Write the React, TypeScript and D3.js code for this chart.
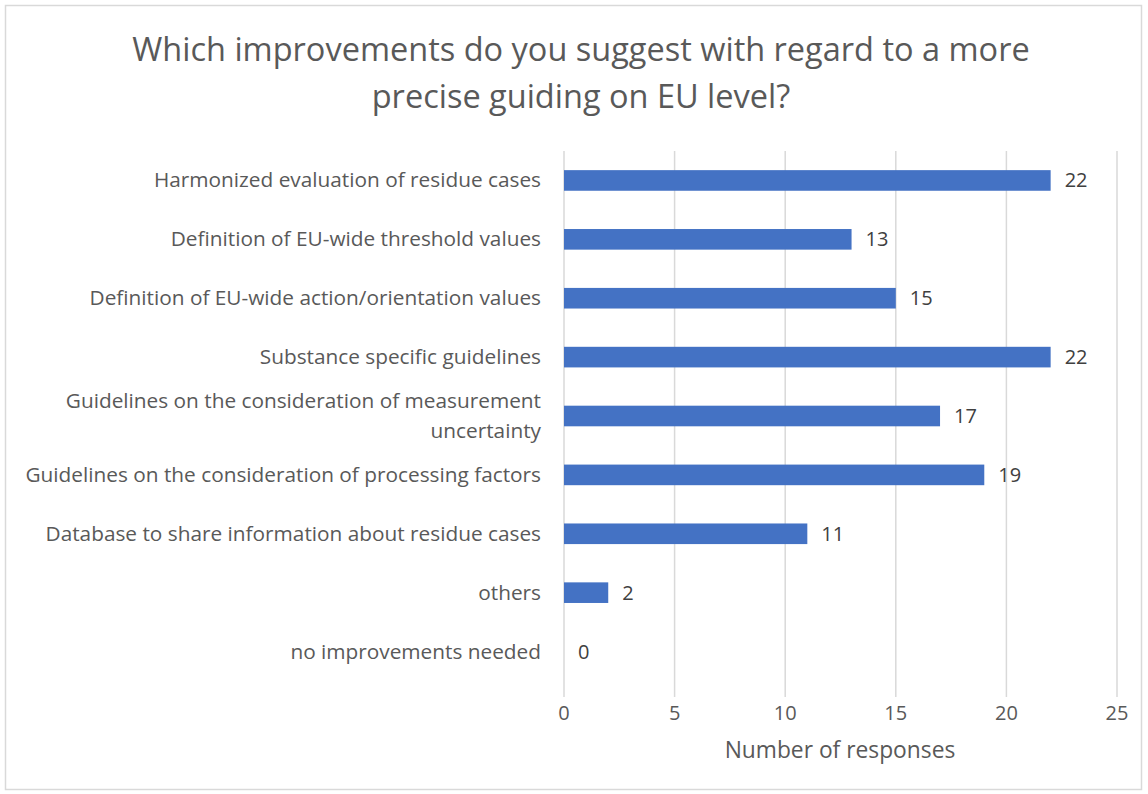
import React from "react";
import * as d3 from "d3";

const categories: string[][] = [
  ["Harmonized evaluation of residue cases"],
  ["Definition of EU-wide threshold values"],
  ["Definition of EU-wide action/orientation values"],
  ["Substance specific guidelines"],
  ["Guidelines on the consideration of measurement", "uncertainty"],
  ["Guidelines on the consideration of processing factors"],
  ["Database to share information about residue cases"],
  ["others"],
  ["no improvements needed"],
];
const values: number[] = [22, 13, 15, 22, 17, 19, 11, 2, 0];
const xTicks: number[] = [0, 5, 10, 15, 20, 25];
const titleLines: string[] = [
  "Which improvements do you suggest with regard to a more",
  "precise guiding on EU level?",
];
const xTitle = "Number of responses";

const W = 1148;
const H = 794;
const FONT = "'Open Sans', 'Noto Sans', sans-serif";

export default function App() {
  const x = d3.scaleLinear().domain([0, 25]).range([564, 1117]);
  const y = d3
    .scaleBand<number>()
    .domain(values.map((_, i) => i))
    .range([151, 681])
    .paddingInner(0.65)
    .paddingOuter(0.325);
  const bw = y.bandwidth();
  return (
    <svg
      width={W}
      height={H}
      style={{ position: "absolute", left: 0, top: 0, background: "#fff" }}
    >
      <rect x={5.5} y={5.5} width={1136} height={784} fill="#fff" stroke="#d9d9d9" strokeWidth={1.5} />
      {titleLines.map((t, i) => (
        <text
          key={i}
          x={581}
          y={61 + i * 47}
          textAnchor="middle"
          fontFamily={FONT}
          fontSize={32.5}
          fill="#595959"
        >
          {t}
        </text>
      ))}
      {xTicks.map((t) => (
        <g key={t}>
          <line x1={x(t)} x2={x(t)} y1={151} y2={697} stroke="#d9d9d9" strokeWidth={1.5} />
          <text
            x={x(t)}
            y={720}
            textAnchor="middle"
            fontFamily={FONT}
            fontSize={20}
            fill="#595959"
          >
            {t}
          </text>
        </g>
      ))}
      {values.map((v, i) => {
        const cy = (y(i) as number) + bw / 2;
        const lines = categories[i];
        return (
          <g key={i}>
            <rect x={x(0)} y={y(i)} width={x(v) - x(0)} height={bw} fill="#4472c4" />
            <text
              x={x(v) + 14}
              y={cy + 7}
              fontFamily={FONT}
              fontSize={20}
              fill="#404040"
            >
              {v}
            </text>
            {lines.map((l, j) => (
              <text
                key={j}
                x={541}
                y={cy + 7 + (j - (lines.length - 1) / 2) * 30}
                textAnchor="end"
                fontFamily={FONT}
                fontSize={20.8}
                fill="#595959"
              >
                {l}
              </text>
            ))}
          </g>
        );
      })}
      <text
        x={840}
        y={758}
        textAnchor="middle"
        fontFamily={FONT}
        fontSize={22.8}
        fill="#595959"
      >
        {xTitle}
      </text>
    </svg>
  );
}
